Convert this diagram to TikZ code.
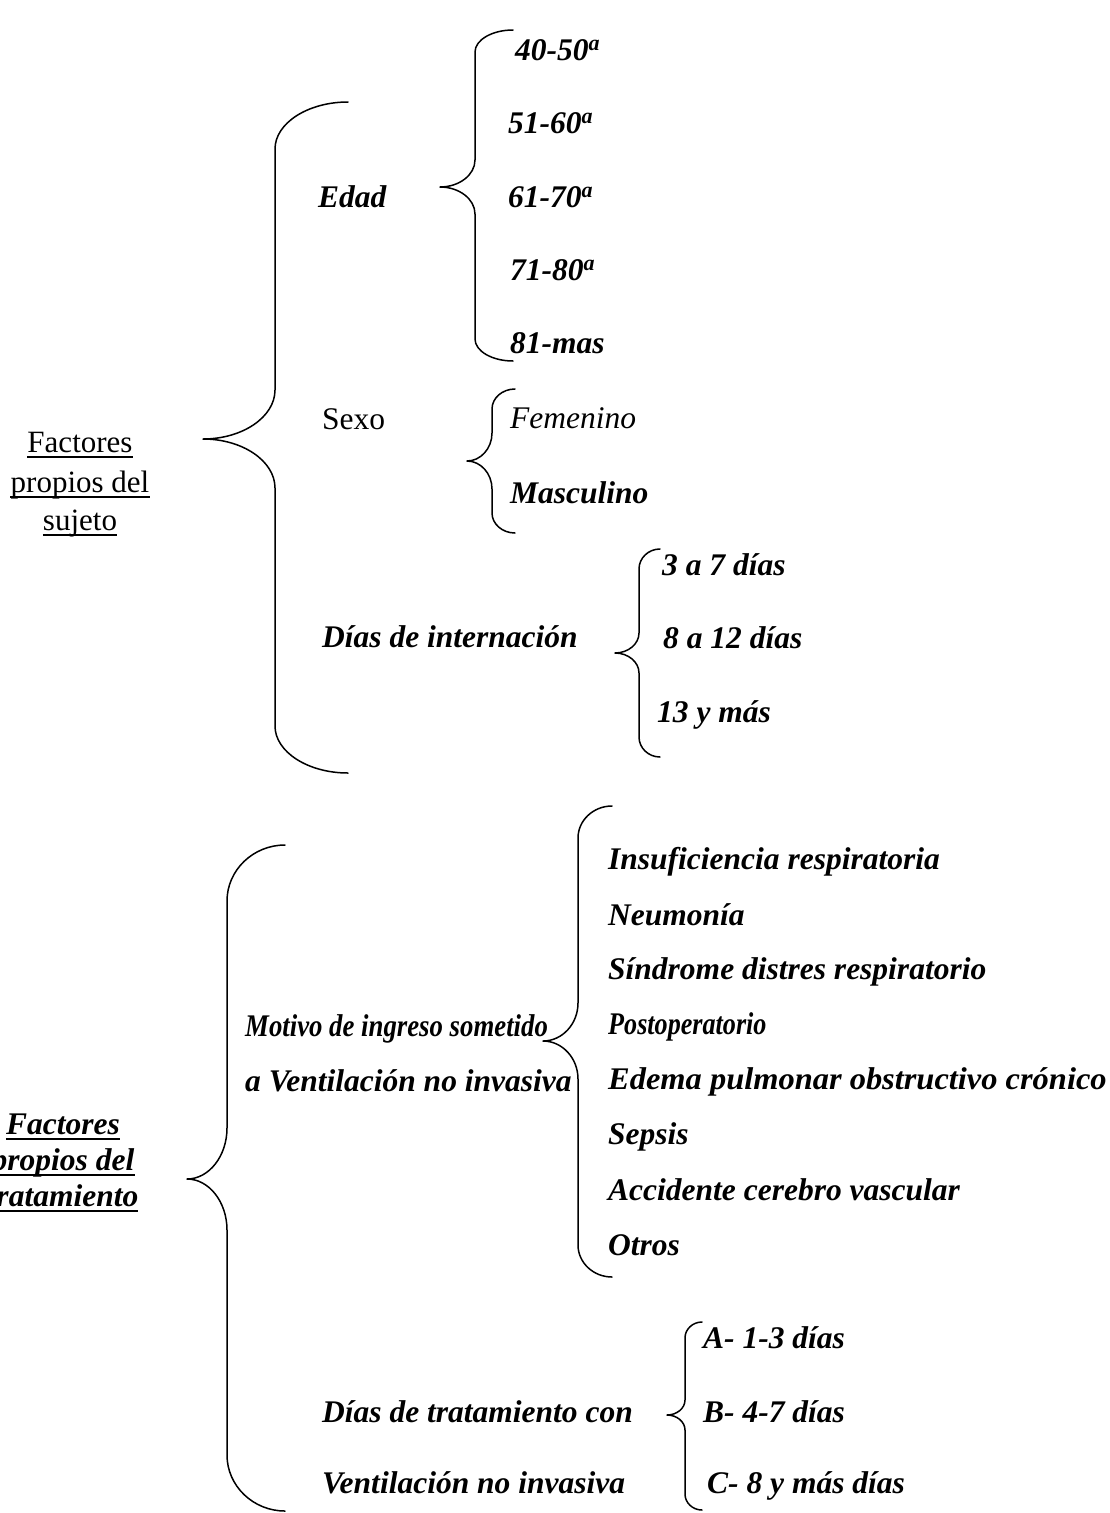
\documentclass[tikz,border=0pt]{standalone}
\usepackage{fontspec}
\setmainfont{Liberation Serif}
\usepackage{graphicx}
\newcommand\fsz{\fontsize{31.5}{38}\selectfont}
\tikzset{
  bline/.style={line width=1.5pt, line cap=round, line join=round},
  tx/.style={anchor=base west, inner sep=0pt, font=\fsz\bfseries\itshape},
  txr/.style={anchor=base west, inner sep=0pt, font=\fsz},
  txi/.style={anchor=base west, inner sep=0pt, font=\fsz\itshape},
  lab/.style={anchor=base, inner sep=0pt, font=\fontsize{31}{38}\selectfont},
  labbi/.style={anchor=base, inner sep=0pt, font=\fsz\bfseries\itshape},
  uline/.style={line width=1.3pt},
}
% xt yt xv xp yp yb r1 r2
\newcommand\mybrace[8]{%
 \draw[bline] (#1,#2) .. controls ({#3+0.45*(#1-#3)},#2) and (#3,{#2+0.45*#7}) .. (#3,{#2+#7})
   -- (#3,{#5-#8}) .. controls (#3,{#5-0.45*#8}) and ({#3-0.45*(#3-#4)},#5) .. (#4,#5)
   .. controls ({#3-0.45*(#3-#4)},#5) and (#3,{#5+0.45*#8}) .. (#3,{#5+#8})
   -- (#3,{#6-#7}) .. controls (#3,{#6-0.45*#7}) and ({#3+0.45*(#1-#3)},#6) .. (#1,#6);}
\begin{document}
\begin{tikzpicture}[x=1pt,y=-1pt]
\useasboundingbox (0,0) rectangle (1110,1513);
\fill[white] (0,0) rectangle (1110,1513);
\clip (0,0) rectangle (1110,1513);

% ---- Factores propios del sujeto
\node[lab] (l1a) at (80,452) {Factores};
\node[lab] (l1b) at (80,492) {propios del};
\node[lab] (l1c) at (80,530) {sujeto};
\foreach \n in {l1a,l1b,l1c}
  \draw[uline] ([yshift=-5pt]\n.base west) -- ([yshift=-5pt]\n.base east);
\mybrace{348}{102}{275}{203}{439}{773}{47}{49}

\node[tx] (edad) at (318,207) {Edad};
\mybrace{513}{30}{475}{440}{187}{361}{22}{27}
\node[tx] (e1) at (515,60) {40-50\textsuperscript{a}};
\node[tx] (e2) at (508,133) {51-60\textsuperscript{a}};
\node[tx] (e3) at (508,207) {61-70\textsuperscript{a}};
\node[tx] (e4) at (510,280) {71-80\textsuperscript{a}};
\node[tx] (e5) at (510,353) {81-mas};

\node[txr] (sexo) at (322,429) {Sexo};
\mybrace{515}{389}{492}{467}{461}{533}{20}{28}
\node[txi] (fem) at (510,428) {Femenino};
\node[tx] (masc) at (510,503) {Masculino};

\node[tx] (dint) at (322,647) {Días de internación};
\mybrace{660}{549}{639}{615}{653}{757}{20}{20}
\node[tx] (d1) at (662,575) {3 a 7 días};
\node[tx] (d2) at (663,648) {8 a 12 días};
\node[tx] (d3) at (657,722) {13 y más};

% ---- Factores propios del tratamiento
\node[labbi] (l2a) at (63,1134) {Factores};
\node[labbi] (l2b) at (63,1170) {propios del};
\node[labbi] (l2c) at (63,1206) {tratamiento};
\foreach \n in {l2a,l2b,l2c}
  \draw[uline] ([yshift=-5pt]\n.base west) -- ([yshift=-5pt]\n.base east);
\mybrace{285}{845}{227}{187}{1179}{1511}{56}{51}

\node[tx] (mot1) at (245,1036) {\scalebox{0.85}[1]{Motivo de ingreso sometido}};
\node[tx] (mot2) at (245,1091) {a Ventilación no invasiva};
\mybrace{612}{806}{578}{543}{1041}{1277}{32}{38}
\node[tx] (m1) at (608,869) {Insuficiencia respiratoria};
\node[tx] (m2) at (608,925) {Neumonía};
\node[tx] (m3) at (608,979) {Síndrome distres respiratorio};
\node[tx] (m4) at (608,1034) {\scalebox{0.83}[1]{Postoperatorio}};
\node[tx] (m5) at (608,1089) {\scalebox{1.03}[1]{Edema pulmonar obstructivo crónico}};
\node[tx] (m6) at (608,1144) {Sepsis};
\node[tx] (m7) at (608,1200) {Accidente cerebro vascular};
\node[tx] (m8) at (608,1255) {Otros};

\node[tx] (dt1) at (322,1422) {Días de tratamiento con};
\node[tx] (dt2) at (322,1493) {Ventilación no invasiva};
\mybrace{702}{1322}{685}{667}{1415}{1510}{16}{15}
\node[tx] (t1) at (703,1348) {A- 1-3 días};
\node[tx] (t2) at (703,1422) {B- 4-7 días};
\node[tx] (t3) at (707,1493) {C- 8 y más días};
\end{tikzpicture}
\end{document}
